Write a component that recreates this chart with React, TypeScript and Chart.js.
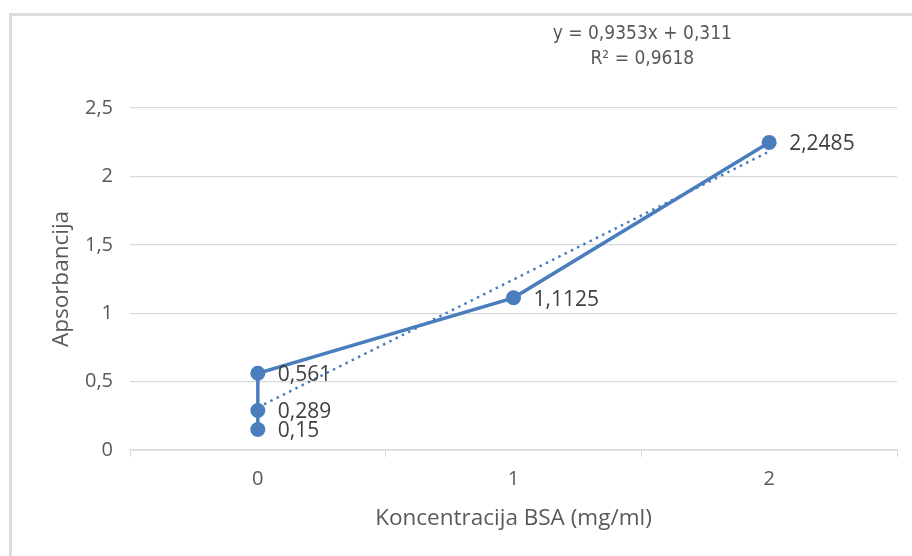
import React, { useEffect, useRef } from "react";
import { Chart, registerables } from "chart.js";

Chart.register(...registerables);

// Data
const concentration = [0, 0, 0, 1, 2];
const absorbance = [0.15, 0.289, 0.561, 1.1125, 2.2485];
const trendSlope = 0.9353;
const trendIntercept = 0.311;
const trendRange = [0, 2];
const rSquared = 0.9618;
const yTickValues = [0, 0.5, 1, 1.5, 2, 2.5];
const xLabelValues = [0, 1, 2];
const xTitle = "Koncentracija BSA (mg/ml)";
const yTitle = "Apsorbancija";

const BLUE = "#4a7dbd";
const GRID = "#d9d9d9";
const TEXT = "#595959";
const FONT = "'Open Sans', 'Noto Sans', sans-serif";
const NARROW = "'Liberation Sans Narrow', 'DejaVu Sans Condensed', sans-serif";

const comma = (v: number) => String(v).replace(".", ",");

const labelPlugin = {
  id: "labels",
  afterDatasetsDraw(chart: any) {
    const ctx = chart.ctx;
    const meta = chart.getDatasetMeta(0);
    ctx.save();
    ctx.font = `21px ${FONT}`;
    ctx.fillStyle = "#404040";
    ctx.textAlign = "left";
    ctx.textBaseline = "middle";
    meta.data.forEach((pt: any, i: number) => {
      ctx.fillText(comma(absorbance[i]), pt.x + 20, pt.y + 2);
    });
    // trendline equation
    ctx.font = `19px ${NARROW}`;
    ctx.textAlign = "center";
    ctx.fillStyle = TEXT;
    const eqX = chart.scales.x.getPixelForValue(1.5) + 1;
    ctx.fillText(
      `y = ${comma(trendSlope)}x + ${comma(trendIntercept)}`,
      eqX,
      34
    );
    ctx.fillText(`R² = ${comma(rSquared)}`, eqX, 59);
    ctx.restore();
  },
};

export default function App() {
  const ref = useRef<HTMLCanvasElement>(null);
  useEffect(() => {
    if (!ref.current) return;
    const chart = new Chart(ref.current, {
      type: "scatter",
      data: {
        datasets: [
          {
            data: concentration.map((x, i) => ({ x, y: absorbance[i] })),
            showLine: true,
            borderColor: BLUE,
            backgroundColor: BLUE,
            borderWidth: 3.5,
            pointRadius: 7.5,
            pointBorderWidth: 0,
            pointBackgroundColor: BLUE,
          },
          {
            data: trendRange.map((x) => ({ x, y: trendSlope * x + trendIntercept })),
            showLine: true,
            borderColor: BLUE,
            borderWidth: 2.5,
            borderDash: [2.5, 4.5],
            pointRadius: 0,
          },
        ],
      },
      options: {
        animation: false,
        responsive: false,
        maintainAspectRatio: false,
        layout: { padding: { top: 108, right: 15, left: 0, bottom: 0 } },
        plugins: {
          legend: { display: false },
          tooltip: { enabled: false },
        },
        scales: {
          x: {
            type: "linear",
            min: -0.5,
            max: 2.5,
            afterFit: (s: any) => {
              s.height = 106;
            },
            ticks: {
              stepSize: 0.5,
              autoSkip: false,
              maxRotation: 0,
              padding: 10,
              color: TEXT,
              font: { family: FONT, size: 20 },
              callback: (v: any) =>
                xLabelValues.includes(Number(v)) ? String(v) : "",
            },
            grid: {
              drawOnChartArea: false,
              drawTicks: true,
              tickLength: 7,
              tickColor: (c: any) =>
                c.tick && Number.isInteger(c.tick.value) ? "rgba(0,0,0,0)" : GRID,
              color: GRID,
            },
            border: { display: true, color: GRID, width: 1.5 },
            title: {
              display: true,
              text: xTitle,
              color: TEXT,
              font: { family: FONT, size: 22.5 },
              padding: { top: 0, bottom: 23.5 },
            },
          },
          y: {
            type: "linear",
            min: 0,
            max: 2.5,
            afterFit: (s: any) => {
              s.width = 130;
            },
            afterBuildTicks: (s: any) => {
              s.ticks = yTickValues.map((v) => ({ value: v }));
            },
            ticks: {
              padding: 17,
              color: TEXT,
              font: { family: FONT, size: 20 },
              callback: (v: any) => comma(Number(v)),
            },
            grid: { color: GRID, drawTicks: false, lineWidth: 1.2 },
            border: { display: false },
            title: {
              display: true,
              text: yTitle,
              color: TEXT,
              font: { family: FONT, size: 22.5 },
              padding: { top: 48.5, bottom: 0 },
            },
          },
        },
      },
      plugins: [labelPlugin],
    });
    return () => chart.destroy();
  }, []);

  return (
    <div
      style={{
        position: "absolute",
        left: 0,
        top: 0,
        width: 912,
        height: 556,
        overflow: "hidden",
        background: "#fff",
      }}
    >
      <div
        style={{
          position: "absolute",
          left: 9,
          top: 13,
          width: 3,
          height: 543,
          background: "#dcdcdc",
        }}
      />
      <div
        style={{
          position: "absolute",
          left: 9,
          top: 13,
          width: 903,
          height: 3,
          background: "#dcdcdc",
        }}
      />
      <canvas
        ref={ref}
        width={912}
        height={556}
        style={{ position: "absolute", left: 0, top: 0, width: 912, height: 556 }}
      />
    </div>
  );
}
